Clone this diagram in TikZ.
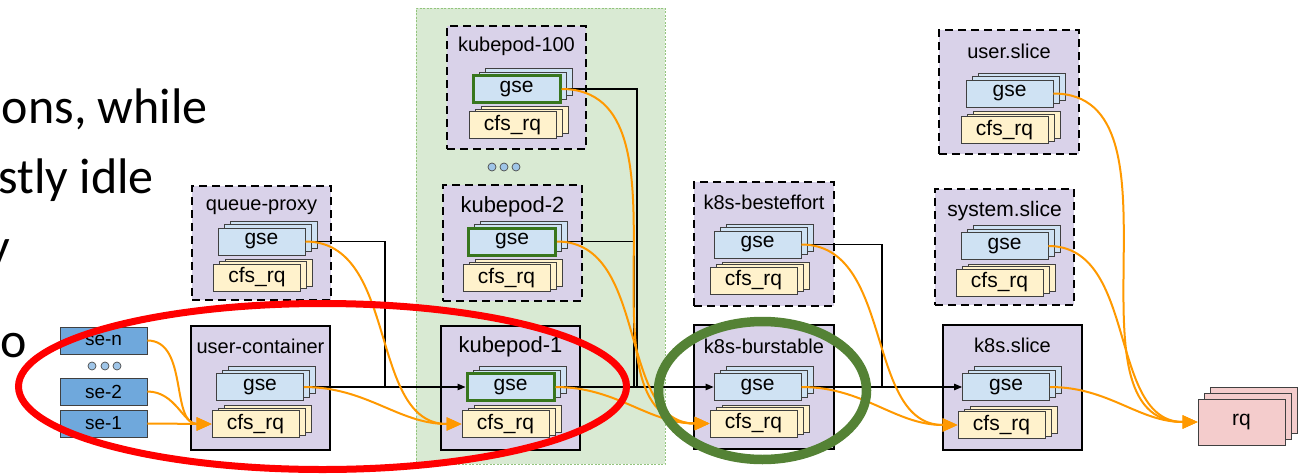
\documentclass[tikz,border=0pt]{standalone}
\usepackage{fontspec}
\usepackage{graphicx}
\setmainfont{Liberation Sans}
\newfontfamily\calib{Carlito}
\usetikzlibrary{arrows.meta,calc}

\definecolor{purp}{HTML}{D9D2E9}
\definecolor{gsec}{HTML}{CFE2F3}
\definecolor{cfsc}{HTML}{FFF2CC}
\definecolor{rqc}{HTML}{F4CCCC}
\definecolor{sec}{HTML}{6FA8DC}
\definecolor{areac}{HTML}{D9EAD3}
\definecolor{areab}{HTML}{93C47D}
\definecolor{gbord}{HTML}{38761D}
\definecolor{orng}{HTML}{FF9900}
\definecolor{redc}{HTML}{FF0000}
\definecolor{gell}{HTML}{548235}
\definecolor{dotc}{HTML}{9FC5E8}

\tikzset{
  cont/.style={draw=black, line width=2.4pt, fill=purp, inner sep=0pt},
  contd/.style={cont, dash pattern=on 8pt off 5pt},
  clabel/.style={font=\fontsize{20}{24}\selectfont, inner sep=0pt},
  gsebox/.style={draw=black!75, line width=0.8pt, fill=gsec, minimum width=87pt, minimum height=27pt, inner sep=0pt, font=\fontsize{21}{24}\selectfont},
  cfsbox/.style={draw=black!75, line width=0.8pt, fill=cfsc, minimum width=87pt, minimum height=27pt, inner sep=0pt, font=\fontsize{21}{24}\selectfont},
  rqbox/.style={draw=black!75, line width=0.8pt, fill=rqc, minimum width=87pt, minimum height=46pt, inner sep=0pt, font=\fontsize{21}{24}\selectfont},
  sebox/.style={draw=black!75, line width=0.8pt, fill=sec, minimum width=87pt, minimum height=27pt, inner sep=0pt, font=\fontsize{19}{22}\selectfont},
  grnfront/.style={draw=gbord, line width=3pt},
  dotn/.style={circle, draw=black!70, fill=dotc, minimum size=8pt, inner sep=0pt, line width=0.7pt},
  blkline/.style={black, line width=1.1pt},
  blkarr/.style={blkline, -{Triangle[length=8pt,width=6.5pt]}},
  orgarr/.style={draw=orng, line width=2pt, -{Triangle[length=15pt,width=13pt]}, out=0, in=180},
  bigtext/.style={anchor=base east, inner sep=0pt, font=\calib\fontsize{25}{30}\selectfont},
}

% container: name, x1, y1, x2, y2, style, label, label y
\newcommand\contbox[8]{%
  \node[#6, minimum width={#4-#2}, minimum height={#5-#3}] (#1) at ({(#2+#4)/2},{(#3+#5)/2}) {};
  \node[clabel] (#1l) at ({(#2+#4)/2},#8) {#7};
}
% stack: name, cx, cy, style, front extra, text, dx, dy
\newcommand\stk[8]{%
  \node[#4] at ({#2+2*(#7)},{#3+2*(#8)}) {};
  \node[#4] at ({#2+(#7)},{#3+(#8)}) {};
  \node[#4,#5] (#1) at (#2,#3) {#6};
}

\begin{document}
\begin{tikzpicture}[x=1pt,y=-1pt]
\useasboundingbox (0,0) rectangle (1309,474);

% left text
\node[bigtext] (t1) at (208,123) {\scalebox{2}{ons, while}};
\node[bigtext] (t2) at (154,193) {\scalebox{2}{stly idle}};
\node[bigtext] (t3) at (10,263) {\scalebox{2}{y}};
\node[bigtext] (t4) at (27,357) {\scalebox{2}{o}};

% green area
\node[draw=areab, fill=areac, line width=0.8pt, dash pattern=on 2pt off 1.5pt, minimum width=249pt, minimum height=456pt, inner sep=0pt] (area) at (540.5,236) {};

% containers
\contbox{qp}{192}{186}{331}{300}{contd}{queue-proxy}{207}
\contbox{uc}{191}{326}{330}{450}{cont}{user-container}{346}
\contbox{kpc}{447}{26}{586}{149}{contd}{kubepod-100}{46}
\contbox{kpb}{443}{185}{582}{301}{contd}{\fontsize{22}{26}\selectfont kubepod-2}{207}
\contbox{kpa}{441}{326}{580}{450}{cont}{\fontsize{22}{26}\selectfont kubepod-1}{347}
\contbox{be}{694}{182}{834}{306}{contd}{k8s-besteffort}{202}
\contbox{bu}{694}{325}{834}{449}{cont}{k8s-burstable}{346}
\contbox{us}{939}{30}{1079}{154}{contd}{user.slice}{51}
\contbox{ss}{935}{189}{1074}{305}{contd}{\fontsize{21}{25}\selectfont system.slice}{211}
\contbox{ks}{943}{325}{1082}{450}{cont}{k8s.slice}{345}

% gse stacks
\stk{qpg}{261.5}{241.5}{gsebox}{}{gse}{6}{-3.5}
\stk{ucg}{260}{387}{gsebox}{}{gse}{6}{-3.5}
\stk{kpcg}{516.5}{89}{gsebox}{grnfront}{gse}{6}{-3.5}
\stk{kpbg}{512}{241.5}{gsebox}{grnfront}{gse}{6}{-3.5}
\stk{kpag}{510.5}{387}{gsebox}{grnfront}{gse}{6}{-3.5}
\stk{beg}{757.5}{244.5}{gsebox}{}{gse}{6}{-3.5}
\stk{bug}{757.5}{387}{gsebox}{}{gse}{6}{-3.5}
\stk{usg}{1009.5}{93.5}{gsebox}{}{gse}{6}{-3.5}
\stk{ssg}{1004.5}{246}{gsebox}{}{gse}{6}{-3.5}
\stk{ksg}{1006}{387}{gsebox}{}{gse}{6}{-3.5}

% cfs_rq stacks
\stk{qpc}{257}{277.5}{cfsbox}{}{cfs\_rq}{6}{-2.5}
\stk{ucc}{255.5}{424}{cfsbox}{}{cfs\_rq}{6}{-2.5}
\stk{kpcc}{512.5}{125}{cfsbox}{}{cfs\_rq}{6}{-2.5}
\stk{kpbc}{506.5}{278}{cfsbox}{}{cfs\_rq}{6}{-2.5}
\stk{kpac}{505.5}{424}{cfsbox}{}{cfs\_rq}{6}{-2.5}
\stk{bec}{753.5}{280.5}{cfsbox}{}{cfs\_rq}{6}{-2.5}
\stk{buc}{753.5}{423.5}{cfsbox}{}{cfs\_rq}{6}{-2.5}
\stk{usc}{1004.5}{130}{cfsbox}{}{cfs\_rq}{6}{-2.5}
\stk{ssc}{999.5}{282.5}{cfsbox}{}{cfs\_rq}{6}{-2.5}
\stk{ksc}{1001.5}{425}{cfsbox}{}{cfs\_rq}{6}{-2.5}

% rq
\stk{rq}{1241.5}{422}{rqbox}{}{rq}{6}{-6}

% se boxes
\node[sebox] (sen) at (103.5,340.5) {se-n};
\node[sebox] (se2) at (103.5,391.5) {se-2};
\node[sebox] (se1) at (103.5,423.5) {se-1};
\node[dotn] (d1) at (92,366) {};
\node[dotn] (d2) at (105,366) {};
\node[dotn] (d3) at (117,366) {};
\node[dotn] (d4) at (492,167) {};
\node[dotn] (d5) at (504,167) {};
\node[dotn] (d6) at (516,167) {};

% black connectors
\coordinate (j1) at (385,387);
\coordinate (j2) at (637,387);
\coordinate (j3) at (634,387);
\coordinate (j4) at (882,387);
\draw[blkline] (qpg.east) -| (j1);
\draw[blkarr] (ucg.east) -- (kpag.west);
\draw[blkline] (kpcg.east) -| (j2);
\draw[blkline] (kpbg.east) -| (j3);
\draw[blkarr] (kpag.east) -- (bug.west);
\draw[blkline] (beg.east) -| (j4);
\draw[blkarr] (bug.east) -- (ksg.west);

% orange connectors
\draw[orgarr] (sen.east) to (ucc.west);
\draw[orgarr] (se2.east) to (ucc.west);
\draw[orgarr] (se1.east) to (ucc.west);
\draw[orgarr] (qpg.east) to (kpac.west);
\draw[orgarr] (ucg.east) to (kpac.west);
\draw[orgarr] (kpcg.east) to (buc.west);
\draw[orgarr] (kpbg.east) to (buc.west);
\draw[orgarr] (kpag.east) to (buc.west);
\draw[orgarr] (beg.east) to (ksc.west);
\draw[orgarr] (bug.east) to (ksc.west);
\draw[orgarr] (usg.east) to (rq.west);
\draw[orgarr] (ssg.east) to (rq.west);
\draw[orgarr] (ksg.east) to (rq.west);

% highlight ellipses
\draw[redc, line width=7pt] (322.5,386.5) ellipse [x radius=304, y radius=83];
\draw[gell, line width=9.5pt] (762.5,390.5) ellipse [x radius=104, y radius=69];
\end{tikzpicture}
\end{document}
